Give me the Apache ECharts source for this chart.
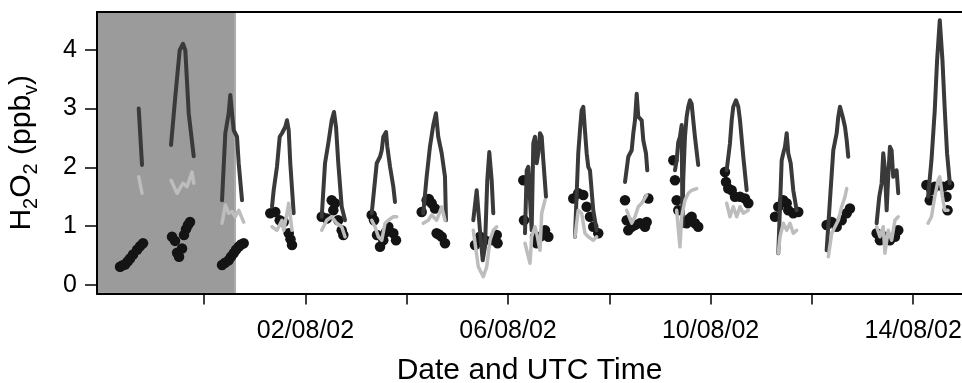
<!DOCTYPE html>
<html><head><meta charset="utf-8">
<script src="https://cdn.jsdelivr.net/npm/echarts@6/dist/echarts.min.js"></script>
<style>html,body{margin:0;padding:0;background:#fff}#c{width:962px;height:383px}</style>
</head><body><div id="c"></div>
<script>
// Time is day-of-year 2002 (UTC, decimal). null separates daily segments.
const darkTime = [
210.707,210.772,null,
211.345,211.429,211.516,211.581,211.627,211.694,211.793,null,
212.352,212.417,212.484,212.515,212.549,212.583,212.648,212.681,212.747,null,
213.339,213.372,213.437,213.491,213.536,213.570,213.602,213.635,213.669,213.700,213.767,null,
214.321,214.386,214.451,214.518,214.563,214.603,214.648,214.715,214.781,null,
215.308,215.407,215.472,215.506,215.537,215.591,215.616,215.670,215.735,215.768,null,
216.326,216.393,216.458,216.524,216.577,216.622,216.690,216.755,216.775,null,
217.314,217.381,217.446,217.500,217.545,217.590,217.630,217.677,217.709,null,
218.335,218.369,218.400,218.467,218.499,218.532,218.566,218.598,218.631,218.665,218.697,218.750,null,
219.322,219.387,219.421,219.454,219.486,219.519,219.553,219.584,219.618,219.683,219.750,null,
220.310,220.375,220.442,220.474,220.507,220.541,220.572,220.639,220.671,220.724,220.750,null,
221.297,221.330,221.362,221.395,221.429,221.445,221.460,221.494,221.527,221.559,221.593,221.626,221.658,221.691,221.756,null,
222.318,222.383,222.417,222.448,222.502,222.547,222.581,222.646,222.713,null,
223.337,223.371,223.404,223.436,223.469,223.503,223.534,223.582,223.633,223.700,null,
224.292,224.357,224.423,224.490,224.522,224.555,224.609,224.654,224.688,224.719,null,
225.279,225.331,225.378,225.410,225.443,225.477,225.508,225.542,225.575,225.607,225.674,225.706,null,
226.295,226.362,226.427,226.473,226.526,226.579,226.625,226.670,226.724
];
const darkH2O2 = [
3.00,2.04,null,
2.38,3.20,3.99,4.10,3.99,2.92,2.19,null,
1.44,2.58,2.92,3.23,3.20,2.63,2.52,2.07,1.44,null,
1.33,1.61,2.01,2.52,2.58,2.55,2.69,2.80,2.63,2.07,1.22,null,
1.16,2.07,2.41,2.80,2.94,2.69,2.07,1.33,1.10,null,
1.22,2.07,2.18,2.29,2.52,2.60,2.35,2.01,1.67,1.41,null,
1.22,1.84,2.35,2.72,2.92,2.52,2.24,1.84,1.10,null,
1.10,1.61,0.93,0.42,0.65,1.78,2.26,1.78,1.22,null,
0.88,1.95,2.01,0.93,2.41,2.52,2.07,2.24,2.58,2.52,2.12,1.50,null,
0.82,2.24,2.63,2.97,3.03,2.63,2.24,2.01,1.95,1.27,0.93,null,
1.75,2.18,2.29,2.58,2.80,3.25,2.86,2.80,2.46,2.24,1.95,null,
1.95,2.12,2.43,2.52,2.72,1.00,1.78,2.52,2.86,3.03,3.14,3.08,2.80,2.52,2.04,null,
1.95,2.41,2.80,3.03,3.14,3.03,2.80,2.18,1.61,null,
0.54,1.33,2.12,2.24,2.35,2.58,2.24,2.07,1.61,1.27,null,
0.59,1.44,2.29,2.58,2.86,3.03,2.86,2.69,2.46,2.18,null,
1.05,1.50,1.73,2.24,1.95,1.27,1.84,2.35,2.29,1.84,1.95,1.56,null,
1.50,2.12,2.97,3.82,4.50,3.82,2.97,2.24,1.73
];
const lightTime = [
210.707,210.772,null,
211.345,211.464,211.581,211.660,211.759,211.793,null,
212.352,212.417,212.484,212.549,212.614,212.681,212.780,null,
213.339,213.437,213.536,213.570,213.635,213.669,213.734,null,
214.321,214.420,214.518,214.617,214.715,214.781,null,
215.308,215.373,215.439,215.506,215.571,215.636,215.735,215.802,null,
216.326,216.425,216.492,216.590,216.690,216.755,null,
217.314,217.413,217.512,217.579,217.644,217.709,217.777,null,
218.335,218.434,218.467,218.532,218.566,218.631,218.665,218.730,null,
219.322,219.387,219.454,219.519,219.584,219.683,219.750,null,
220.343,220.442,220.507,220.572,220.639,220.738,null,
221.330,221.395,221.429,221.494,221.559,221.626,221.725,null,
222.318,222.383,222.448,222.516,222.581,222.646,222.745,null,
223.337,223.371,223.436,223.503,223.568,223.633,223.700,null,
224.325,224.392,224.457,224.522,224.589,224.654,224.688,null,
225.279,225.344,225.410,225.443,225.508,225.575,225.641,225.706,null,
226.295,226.362,226.427,226.493,226.526,226.579,226.625,226.690
];
const lightH2O2 = [
1.84,1.56,null,
1.78,1.56,1.73,1.67,1.92,1.73,null,
1.05,1.36,1.22,1.25,1.16,1.27,1.07,null,
0.99,0.93,1.10,0.93,1.22,1.39,0.93,null,
0.93,1.10,1.16,1.05,0.99,0.82,null,
1.10,0.99,0.82,0.76,1.05,1.10,1.16,1.16,null,
1.05,1.10,1.19,1.10,1.33,1.10,null,
0.93,0.31,0.14,0.31,0.76,0.93,0.99,null,
0.71,0.37,0.82,0.99,0.88,0.59,1.22,1.44,null,
0.82,1.27,1.22,0.88,0.82,0.76,0.82,null,
1.27,1.05,1.16,1.33,1.39,1.53,null,
1.27,0.65,1.16,1.44,1.56,1.61,1.64,null,
1.39,1.16,1.33,1.16,1.33,1.22,1.27,null,
0.54,0.82,1.05,0.93,1.05,0.88,0.93,null,
0.48,0.88,0.99,1.10,1.33,1.50,1.64,null,
0.99,0.82,0.99,0.54,0.93,0.76,1.10,1.16,null,
1.05,1.16,1.50,1.78,1.84,1.50,1.27,1.27
];
const dotTime = [
210.338,210.378,210.437,210.487,210.535,210.595,210.674,210.733,210.792,
211.365,211.424,211.464,211.503,211.562,211.601,211.641,211.680,211.720,
212.352,212.411,212.484,212.529,212.583,212.628,212.681,212.727,212.780,
213.305,213.404,213.491,213.570,213.669,213.704,213.734,
214.321,214.420,214.518,214.550,214.583,214.648,214.715,214.747,
215.308,215.354,215.413,215.472,215.537,215.591,215.636,215.735,215.788,
216.295,216.393,216.438,216.492,216.557,216.590,216.636,216.690,216.755,
217.348,217.446,217.545,217.709,217.777,217.793,
218.302,218.316,218.532,218.566,218.631,218.730,218.796,
219.289,219.387,219.486,219.553,219.618,219.683,219.782,
220.310,220.343,220.375,220.442,220.507,220.606,220.705,220.738,220.771,
221.264,221.297,221.330,221.362,221.527,221.573,221.626,221.691,221.756,
222.284,222.304,222.350,222.417,222.482,222.581,222.680,222.745,
223.272,223.337,223.436,223.503,223.534,223.633,223.732,
224.292,224.392,224.490,224.589,224.688,224.752,
225.279,225.344,225.443,225.542,225.641,225.706,
226.262,226.328,226.362,226.427,226.592,226.658,226.680,226.710
];
const dotH2O2 = [
0.31,0.33,0.35,0.40,0.45,0.52,0.60,0.66,0.71,
0.82,0.75,0.55,0.48,0.62,0.85,0.95,1.02,1.07,
0.34,0.38,0.42,0.48,0.54,0.60,0.65,0.69,0.71,
1.22,1.24,1.10,1.07,0.88,0.78,0.68,
1.16,1.13,1.44,1.27,1.39,1.10,0.93,0.85,
1.19,1.10,0.85,0.65,0.76,0.90,0.99,0.88,0.76,
1.24,1.44,1.46,1.39,1.30,0.88,0.86,0.82,0.71,
0.68,0.82,0.76,0.76,0.85,0.71,
1.78,1.10,0.82,0.71,0.82,0.93,0.82,
1.47,1.56,1.53,1.33,1.16,0.99,0.88,
1.44,1.10,0.93,0.99,1.02,1.05,0.99,1.07,1.47,
2.12,1.78,1.44,1.27,1.05,1.12,1.16,1.05,0.99,
1.92,1.75,1.64,1.61,1.50,1.50,1.47,1.39,
1.16,1.33,1.44,1.39,1.27,1.22,1.24,
1.02,1.07,0.99,1.10,1.22,1.30,
0.88,0.76,0.82,0.76,0.82,0.93,
1.70,1.44,1.61,1.67,1.67,1.50,1.27,1.70
];
const xTickDays = [212,214,216,218,220,222,224,226];
const xLabelDays = [214,218,222,226];
const yTickValues = [0,1,2,3,4];
const xRange = [209.883, 226.965];
const yRange = [-0.144, 4.64];
const shadedRange = [209.883, 212.608];

function doyLabel(d) {
  const dt = new Date(Date.UTC(2002, 0, 1) + (Math.round(d) - 1) * 86400000);
  const p = n => String(n).padStart(2, '0');
  return p(dt.getUTCDate()) + '/' + p(dt.getUTCMonth() + 1) + '/' + p(dt.getUTCFullYear() % 100);
}
const pair = (t, v) => t.map((x, i) => [x, v[i]]);
const FONT = 'Liberation Sans, Arial, sans-serif';

const chart = echarts.init(document.getElementById('c'), null, {renderer: 'canvas'});
chart.setOption({
  animation: false,
  backgroundColor: '#fff',
  grid: {left: 97, right: 0, top: 12, bottom: 89.5, containLabel: false, outerBoundsMode: 'none'},
  xAxis: [{
    type: 'value', min: xRange[0], max: xRange[1], z: 10,
    axisLine: {show: true, onZero: false, lineStyle: {color: '#000', width: 2}},
    axisTick: {show: true, customValues: xTickDays, length: 11, lineStyle: {color: '#000', width: 1.5}},
    axisLabel: {customValues: xLabelDays, formatter: doyLabel, color: '#000', fontSize: 25, fontFamily: FONT, margin: 25},
    splitLine: {show: false},
    name: 'Date and UTC Time', nameLocation: 'middle', nameGap: 62,
    nameTextStyle: {color: '#000', fontSize: 30, fontFamily: FONT}
  }, {
    type: 'value', position: 'top', min: xRange[0], max: xRange[1], z: 10,
    axisLine: {show: true, onZero: false, lineStyle: {color: '#000', width: 2}},
    axisTick: {show: false}, axisLabel: {show: false}, splitLine: {show: false}
  }],
  yAxis: {
    type: 'value', min: yRange[0], max: yRange[1], z: 10,
    axisLine: {show: true, onZero: false, lineStyle: {color: '#000', width: 2}},
    axisTick: {show: true, customValues: yTickValues, length: 12, lineStyle: {color: '#000', width: 1.5}},
    axisLabel: {customValues: yTickValues, color: '#000', fontSize: 25, fontFamily: FONT, margin: 20},
    splitLine: {show: false},
    name: '{n|H}{s|2}{n|O}{s|2}{n| (ppb}{s|v}{n|)}',
    nameLocation: 'middle', nameRotate: 90, nameGap: 56,
    nameTextStyle: {
      color: '#000', fontFamily: FONT,
      rich: {
        n: {fontSize: 30, fontFamily: FONT, color: '#000', lineHeight: 38, verticalAlign: 'middle'},
        s: {fontSize: 20, fontFamily: FONT, color: '#000', lineHeight: 20, verticalAlign: 'bottom'}
      }
    }
  },
  series: [{
    type: 'line', data: [], z: 1, silent: true,
    markArea: {
      silent: true,
      itemStyle: {color: '#9b9b9b', borderColor: '#ababab', borderWidth: 2},
      data: [[{xAxis: shadedRange[0], yAxis: yRange[0]}, {xAxis: shadedRange[1], yAxis: yRange[1]}]]
    }
  }, {
    type: 'scatter', data: pair(dotTime, dotH2O2), symbol: 'circle', symbolSize: 10.5, z: 2,
    itemStyle: {color: '#141414', opacity: 1}
  }, {
    type: 'line', data: pair(darkTime, darkH2O2), showSymbol: false, connectNulls: false, z: 3,
    lineStyle: {color: '#3a3a3a', width: 4, cap: 'round', join: 'round'}
  }, {
    type: 'line', data: pair(lightTime, lightH2O2), showSymbol: false, connectNulls: false, z: 4,
    lineStyle: {color: '#bdbdbd', width: 3.5, cap: 'round', join: 'round'}
  }]
});
</script></body></html>
